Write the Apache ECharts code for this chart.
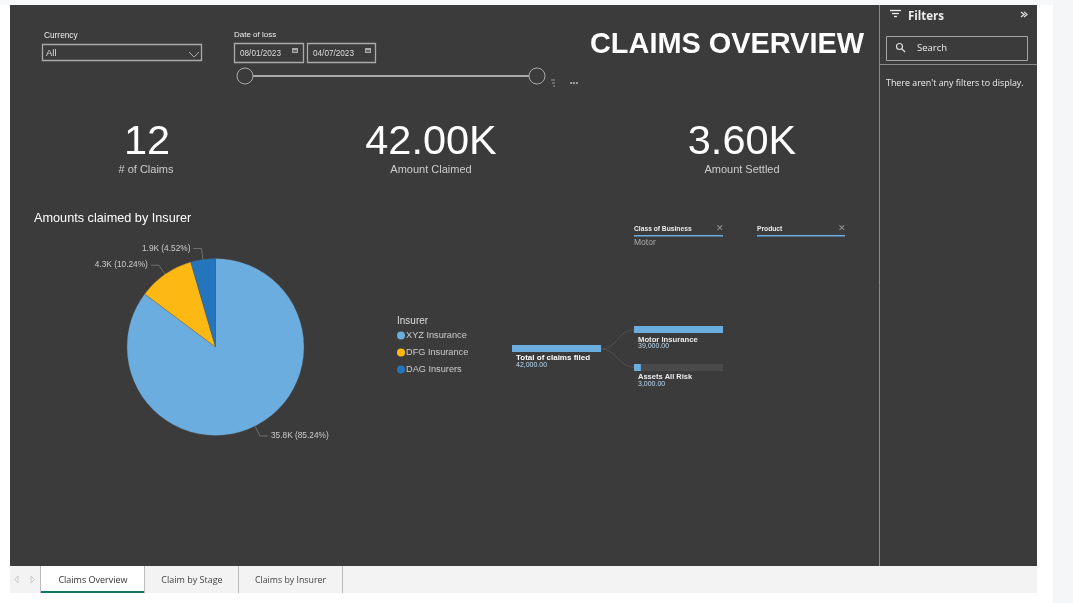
<!DOCTYPE html>
<html>
<head>
<meta charset="utf-8">
<title>Claims Overview</title>
<script src="https://cdn.jsdelivr.net/npm/echarts@6/dist/echarts.min.js"></script>
<style>
  html, body { margin: 0; padding: 0; background: #fff; overflow: hidden; }
  #main { width: 1073px; height: 603px; }
</style>
</head>
<body>
<div id="main"></div>
<script>
var BLUE = '#6CADE0', GOLD = '#FDB813', DARK_BLUE = '#2575BC';
var PANEL = '#3B3B3B', ARIAL = '"Liberation Sans", Arial, sans-serif', UI = '"Open Sans", "Noto Sans", sans-serif';

// amounts claimed by insurer
var insurers = [
  { name: 'XYZ Insurance', value: 35800, itemStyle: { color: BLUE } },
  { name: 'DFG Insurance', value: 4300, itemStyle: { color: GOLD } },
  { name: 'DAG Insurers', value: 1900, itemStyle: { color: DARK_BLUE } }
];
// decomposition tree
var total = { name: 'Total of claims filed', value: 42000 };
var classes = [
  { name: 'Motor Insurance', value: 39000 },
  { name: 'Assets All Risk', value: 3000 }
];

function rect(x, y, w, h, fill, stroke, z, lw) {
  return { type: 'rect', silent: true, z: z || 1, shape: { x: x, y: y, width: w, height: h },
    style: { fill: fill || 'transparent', stroke: stroke || null, lineWidth: lw || 1 } };
}
function text(s, x, y, font, fill, align) {
  return { type: 'text', silent: true, z: 5,
    style: { text: s, x: x, y: y, font: font, fill: fill || '#fff', textAlign: align || 'left', textVerticalAlign: 'middle' } };
}
function line(x1, y1, x2, y2, stroke, w) {
  return { type: 'line', silent: true, z: 3, shape: { x1: x1, y1: y1, x2: x2, y2: y2 }, style: { stroke: stroke, lineWidth: w || 1 } };
}
function curve(x1, y1, x2, y2) {
  var mx = (x1 + x2) / 2;
  return { type: 'bezierCurve', silent: true, z: 2,
    shape: { x1: x1, y1: y1, x2: x2, y2: y2, cpx1: mx, cpy1: y1, cpx2: mx, cpy2: y2 },
    style: { stroke: '#505050', lineWidth: 1, fill: null } };
}
function poly(points, stroke, w) {
  return { type: 'polyline', silent: true, z: 3, shape: { points: points }, style: { stroke: stroke, lineWidth: w || 1, fill: null } };
}
function circle(cx, cy, r, stroke, w, fill) {
  return { type: 'circle', silent: true, z: 4, shape: { cx: cx, cy: cy, r: r }, style: { stroke: stroke, lineWidth: w || 1, fill: fill || PANEL } };
}
function calendar(x, y) {
  return [rect(x, y, 6, 5, '#aaa'), rect(x + 1, y + 2, 4, 2, '#666', null, 2)];
}

var graphics = [
  // page chrome
  rect(0, 0, 1073, 5, '#F7F8FA', null, 0),
  rect(1053, 0, 20, 603, '#F5F6F8', null, 0),
  rect(10, 5, 1027, 561, PANEL, null, 0),
  rect(10, 566, 1027, 27, '#F3F3F3', null, 0),

  // slicers
  text('Currency', 44, 35.5, '8.3px ' + ARIAL, '#eee'),
  rect(42.5, 44.5, 159, 16, null, '#aaa', 1, 1.3),
  text('All', 46, 53, '9.5px ' + ARIAL, '#ddd'),
  poly([[189, 52], [194, 57], [199, 52]], '#aaa'),
  text('Date of loss', 234, 34.5, '8px ' + ARIAL, '#eee'),
  rect(234.5, 43.5, 69, 19, null, '#aaa', 1, 1.3),
  rect(307.5, 43.5, 68, 19, null, '#aaa', 1, 1.3),
  text('08/01/2023', 240, 53.5, '8.2px ' + ARIAL, '#ddd'),
  text('04/07/2023', 313, 53.5, '8.2px ' + ARIAL, '#ddd'),
  line(252, 76, 530, 76, '#aaa', 2),
  circle(245, 76, 8, '#aaa', 1),
  circle(537, 76, 8, '#aaa', 1),
  line(551, 80, 555, 80, '#999'),
  line(552, 83, 555, 83, '#999'),
  line(553, 86, 555, 86, '#999'),
  text('•••', 574, 83, '8px ' + ARIAL, '#aaa', 'center'),
  text('CLAIMS OVERVIEW', 590, 45.5, 'bold 28.9px ' + ARIAL, '#fff'),

  // cards
  text('12', 147, 143, '41.5px ' + ARIAL, '#fff', 'center'),
  text('# of Claims', 146, 170, '11px ' + ARIAL, '#ccc', 'center'),
  text('42.00K', 431, 143, '41.5px ' + ARIAL, '#fff', 'center'),
  text('Amount Claimed', 431, 170, '11px ' + ARIAL, '#ccc', 'center'),
  text('3.60K', 742, 143, '41.5px ' + ARIAL, '#fff', 'center'),
  text('Amount Settled', 742, 170, '11px ' + ARIAL, '#ccc', 'center'),

  // pie heading
  text('Amounts claimed by Insurer', 34, 218, '12.7px ' + ARIAL, '#fff'),
  text('Insurer', 397, 321.5, '10px ' + ARIAL, '#ddd'),

  // decomposition tree headers
  text('Class of Business', 634, 229, 'bold 6.7px ' + ARIAL, '#eee'),
  rect(634, 235, 89, 1.5, BLUE),
  text('✕', 720, 229, '9px ' + ARIAL, '#999', 'center'),
  text('Motor', 634, 242.5, '8.5px ' + ARIAL, '#aaa'),
  text('Product', 757, 229, 'bold 6.7px ' + ARIAL, '#eee'),
  rect(757, 235, 88, 1.5, BLUE),
  text('✕', 842, 229, '9px ' + ARIAL, '#999', 'center'),

  curve(601, 349, 634, 330),
  curve(601, 349, 634, 367),
  text(total.name, 516, 358, 'bold 8px ' + ARIAL, '#fff'),
  text('42,000.00', 516, 365.5, '7px ' + ARIAL, '#bbdcf5'),
  text(classes[0].name, 638, 339.5, 'bold 7.7px ' + ARIAL, '#eee'),
  text('39,000.00', 638, 346.5, '7px ' + ARIAL, '#bbdcf5'),
  text(classes[1].name, 638, 377, 'bold 7.5px ' + ARIAL, '#eee'),
  text('3,000.00', 638, 384.5, '7px ' + ARIAL, '#bbdcf5'),

  // filter pane
  line(879.5, 5, 879.5, 566, '#8a8a8a'),
  line(880, 64.5, 1037, 64.5, '#8a8a8a'),
  line(890, 10.5, 901, 10.5, '#eee', 1.3),
  line(892, 13.5, 899, 13.5, '#eee', 1.3),
  line(894, 16.5, 897, 16.5, '#eee', 1.3),
  text('Filters', 908, 16.5, 'bold 11.5px ' + UI, '#eee'),
  poly([[1021, 12], [1024, 14.5], [1021, 17]], '#ddd', 1.3),
  poly([[1024, 12], [1027, 14.5], [1024, 17]], '#ddd', 1.3),
  rect(886.5, 36.5, 141, 24, null, '#a5a5a5'),
  circle(899.5, 46.5, 3, '#ddd', 1.2, 'transparent'),
  line(902, 49, 905, 52, '#ddd', 1.2),
  text('Search', 917, 48, '9.5px ' + UI, '#eee'),
  text("There aren't any filters to display.", 886, 83, '8.9px ' + UI, '#eee'),

  // page tabs
  rect(40, 566, 105, 27, '#fff', null, 1),
  rect(40, 591, 105, 2, '#117865', null, 2),
  line(40.5, 566, 40.5, 593, '#bbb'),
  line(144.5, 566, 144.5, 593, '#bbb'),
  line(238.5, 566, 238.5, 593, '#bbb'),
  line(342.5, 566, 342.5, 593, '#bbb'),
  poly([[18, 576], [14.5, 579.5], [18, 583], [18, 576]], '#ccc'),
  poly([[31, 576], [34.5, 579.5], [31, 583], [31, 576]], '#ccc'),
  text('Claims Overview', 93, 580, '9px ' + UI, '#333', 'center'),
  text('Claim by Stage', 192, 580, '9px ' + UI, '#444', 'center'),
  text('Claims by Insurer', 290.5, 580, '8.8px ' + UI, '#444', 'center')
].concat(calendar(292, 48), calendar(365, 48));

// one small grid per tree level bar
var treeBars = [
  { left: 512, top: 345, max: total.value, item: total, bg: false },
  { left: 634, top: 326, max: classes[0].value, item: classes[0], bg: false },
  { left: 634, top: 364, max: classes[0].value, item: classes[1], bg: true }
];

var option = {
  backgroundColor: '#fff',
  animation: false,
  graphic: graphics,
  legend: {
    orient: 'vertical', left: 397, top: 331,
    data: insurers.map(function (d) { return d.name; }),
    icon: 'circle', itemWidth: 8, itemHeight: 8, itemGap: 8, padding: 0,
    selectedMode: false,
    itemStyle: { borderWidth: 0 },
    textStyle: { color: '#ccc', fontFamily: ARIAL, fontSize: 9.2, padding: [0, 0, 0, -4] }
  },
  grid: treeBars.map(function (b) {
    return { left: b.left, top: b.top, width: 89, height: 7 };
  }),
  xAxis: treeBars.map(function (b, i) {
    return { type: 'value', gridIndex: i, min: 0, max: b.max, show: false };
  }),
  yAxis: treeBars.map(function (b, i) {
    return { type: 'category', gridIndex: i, data: [b.item.name], show: false };
  }),
  series: [{
    type: 'pie',
    center: [215.5, 347],
    radius: [0, 88.5],
    startAngle: 90,
    clockwise: true,
    percentPrecision: 2,
    data: insurers,
    itemStyle: { borderColor: '#555', borderWidth: 0.3 },
    label: {
      color: '#ccc', fontFamily: ARIAL, fontSize: 8.3, distanceToLabelLine: 3,
      formatter: function (p) {
        return (p.value / 1000).toFixed(1) + 'K (' + p.percent.toFixed(2) + '%)';
      }
    },
    labelLine: { length: 11, length2: 8, lineStyle: { color: '#707070', width: 1 } }
  }].concat(treeBars.map(function (b, i) {
    return {
      type: 'bar', xAxisIndex: i, yAxisIndex: i,
      data: [b.item.value],
      barWidth: '100%',
      showBackground: b.bg,
      backgroundStyle: { color: '#4A4A4A' },
      itemStyle: { color: BLUE }
    };
  }))
};

var chart = echarts.init(document.getElementById('main'), null, { renderer: 'canvas' });
chart.setOption(option);
</script>
</body>
</html>
